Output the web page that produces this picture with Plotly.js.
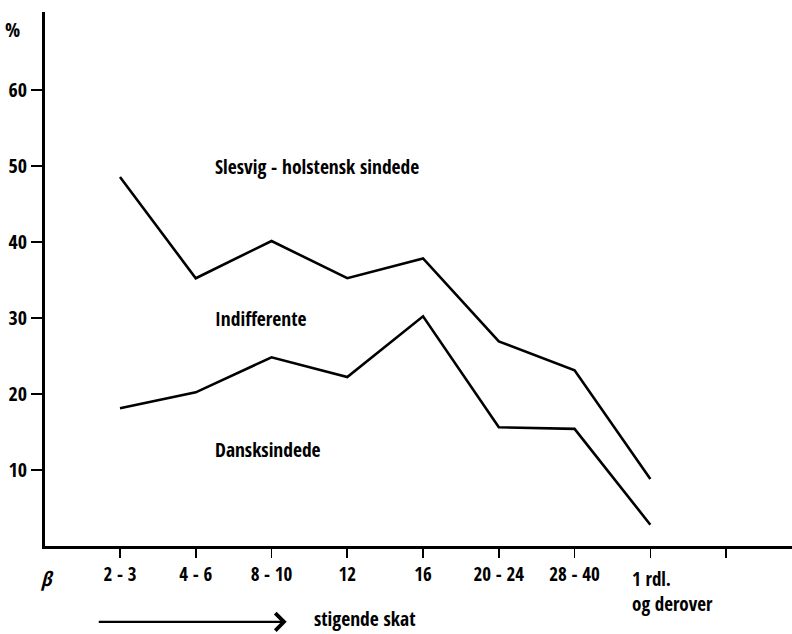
<!DOCTYPE html>
<html>
<head>
<meta charset="utf-8">
<script src="https://cdn.plot.ly/plotly-3.0.1.min.js"></script>
<style>html,body{margin:0;padding:0;background:#fff;}#chart{width:792px;height:634px;}</style>
</head>
<body>
<div id="chart"></div>
<script>
// Categories (tax brackets, rising tax); last one is an empty tick
const categories = ["2 - 3", "4 - 6", "8 - 10", "12", "16", "20 - 24", "28 - 40", "1 rdl.<br>og derover", ""];
// Upper boundary line (%)
const upperLine = [48.5, 35.2, 40.1, 35.2, 37.8, 26.9, 23.1, 8.8];
// Lower boundary line: Dansksindede (%)
const lowerLine = [18.1, 20.2, 24.8, 22.2, 30.2, 15.6, 15.4, 2.8];
const yTicks = [10, 20, 30, 40, 50, 60];
const regionLabels = ["Slesvig - holstensk sindede", "Indifferente", "Dansksindede"];
const regionLabelY = [49.9, 29.9, 12.7];

const FONT = "'Open Sans Condensed', 'Roboto Condensed', 'DejaVu Sans Condensed', sans-serif";
const idx = categories.map((c, i) => i);
const lastLabel = 7; // multi-line label drawn left-aligned

const lineStyle = {color: '#000', width: 2.6};
const traces = [
  {x: upperLine.map((v, i) => idx[i]), y: upperLine, mode: 'lines', line: lineStyle, hoverinfo: 'skip'},
  {x: lowerLine.map((v, i) => idx[i]), y: lowerLine, mode: 'lines', line: lineStyle, hoverinfo: 'skip'}
];

const txtFont = (s) => ({family: FONT, size: s, color: '#000'});
const annotations = regionLabels.map((t, i) => ({
  text: '<b>' + t + '</b>', x: 1.23, y: regionLabelY[i], xref: 'x', yref: 'y',
  xanchor: 'left', yanchor: 'middle', showarrow: false, font: txtFont(19.5)
}));
annotations.push({text: '<b>%</b>', xref: 'paper', yref: 'paper', x: -0.043, y: 0.968,
  xanchor: 'center', yanchor: 'middle', showarrow: false, font: txtFont(20)});
annotations.push({text: '<b><i>β</i></b>', xref: 'x', yref: 'paper', x: -0.96, y: -0.06,
  xanchor: 'center', yanchor: 'middle', showarrow: false, font: txtFont(20)});
annotations.push({text: '<b>' + categories[lastLabel] + '</b>', xref: 'x', yref: 'paper', x: 6.73, y: -0.033,
  xanchor: 'left', yanchor: 'top', align: 'left', showarrow: false, font: txtFont(19)});
annotations.push({text: '<b>stigende skat</b>', xref: 'x', yref: 'paper', x: 2.54, y: -0.135,
  xanchor: 'left', yanchor: 'middle', showarrow: false, font: txtFont(19.5)});
annotations.push({text: '', xref: 'x', yref: 'paper', x: 2.2, y: -0.142,
  axref: 'x', ax: -0.30, ayref: 'pixel', ay: 0, showarrow: true,
  arrowhead: 4, arrowsize: 1.4, arrowwidth: 2.4, arrowcolor: '#000'});

const layout = {
  width: 792, height: 634,
  margin: {l: 45, r: 0, t: 12, b: 88},
  paper_bgcolor: '#fff', plot_bgcolor: '#fff',
  showlegend: false,
  font: {family: FONT, color: '#000'},
  xaxis: {
    range: [-0.99, 8.87], tickvals: idx,
    ticktext: categories.map((c, i) => (i === lastLabel || c === '') ? '' : '<b>' + c + '</b>'),
    showgrid: false, zeroline: false, showline: true, linecolor: '#000', linewidth: 3,
    ticks: 'outside', ticklen: 9, tickwidth: 1.6, tickcolor: '#000',
    tickfont: txtFont(19)
  },
  yaxis: {
    range: [0, 70.2], tickvals: yTicks, ticktext: yTicks.map(v => '<b>' + v + '</b>'),
    showgrid: false, zeroline: false, showline: true, linecolor: '#000', linewidth: 3,
    ticks: 'outside', ticklen: 11, tickwidth: 2, tickcolor: '#000',
    tickfont: txtFont(20)
  },
  annotations: annotations
};

Plotly.newPlot('chart', traces, layout, {displayModeBar: false, staticPlot: true});
</script>
</body>
</html>
